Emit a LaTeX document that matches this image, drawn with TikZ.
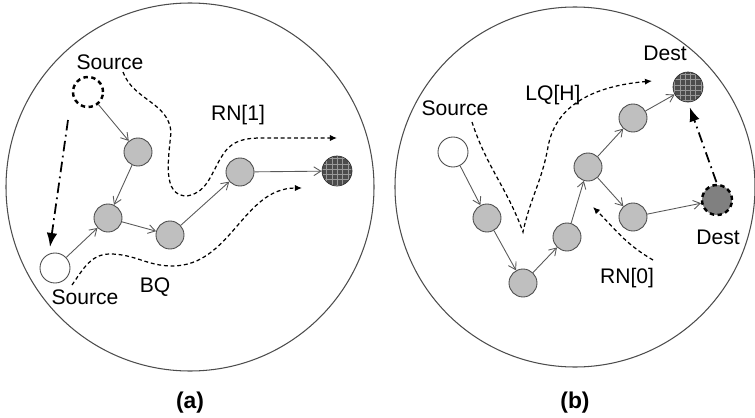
\documentclass[tikz,border=0pt]{standalone}
\usepackage{fontspec}
\setmainfont{Liberation Sans}
\usetikzlibrary{arrows.meta}
\usetikzlibrary{patterns}

\begin{document}
\begin{tikzpicture}[x=0.02cm,y=0.02cm,
  hop/.style={circle,draw=black!70,fill=black!25,minimum size=0.56cm,inner sep=0pt,line width=0.5pt},
  src/.style={circle,draw=black!70,fill=white,minimum size=0.6cm,inner sep=0pt,line width=0.5pt},
  dst/.style={circle,draw=black!80,minimum size=0.6cm,inner sep=0pt,preaction={fill=black!70},pattern=grid,pattern color=black!40},
  moved/.style={circle,draw=black,line width=1.4pt,dash pattern=on 2.5pt off 2pt,minimum size=0.6cm,inner sep=0pt},
  link/.style={draw=black!65,line width=0.5pt,-{Straight Barb[length=4pt,width=5pt]}},
  query/.style={black,line width=0.7pt,dash pattern=on 2.2pt off 1.6pt,-{Latex[length=4pt,width=3.5pt]}},
  drift/.style={black,line width=1pt,dash pattern=on 6pt off 2.5pt on 1pt off 2.5pt,-{Latex[length=8pt,width=6pt]}},
  lbl/.style={font=\fontsize{12}{14}\selectfont,inner sep=0pt},
  sublbl/.style={font=\fontsize{13}{15}\selectfont\bfseries,inner sep=0pt}]
\useasboundingbox (0,0) rectangle (755,417);

% (a) source moves, backward query BQ and reply RN[1]
\draw[black!70,line width=0.6pt] (190,230) circle (184);
\node[lbl] (srcAtxt) at (110,355) {Source};
\node[moved,fill=white] (srcAold) at (88,325) {};
\node[hop] (a1) at (138,265) {};
\node[hop] (a2) at (108,199) {};
\node[hop] (a3) at (170,182) {};
\node[hop] (a4) at (240,245) {};
\node[dst] (dstA) at (337,246) {};
\node[src] (srcA) at (55,149) {};
\node[lbl] (srcAlbl) at (85,120) {Source};
\node[lbl] (bq) at (155,130) {BQ};
\node[lbl] (rn1) at (238,302) {RN[1]};
\draw[link] (srcAold) -- (a1);
\draw[link] (a1) -- (a2);
\draw[link] (srcA) -- (a2);
\draw[link] (a2) -- (a3);
\draw[link] (a3) -- (a4);
\draw[link] (a4) -- (dstA);
\coordinate (mvA0) at (68,297);
\coordinate (mvA1) at (50,170);
\draw[drift] (mvA0) -- (mvA1);
\draw[query] (123,345) to[out=-70,in=95] (171,285) to[out=-95,in=180] (187,221)
  to[out=10,in=-125] (224,264) to[out=55,in=180] (262,279) -- (337,279);
\draw[query] (72,132) to[out=55,in=180] (110,163) to[out=0,in=180] (172,151)
  to[out=0,in=180] (302,229);

% (b) destination moves, location query LQ[H] and reply RN[0]
\draw[black!70,line width=0.6pt] (575,230) circle (180);
\node[lbl] (srcBtxt) at (455,309) {Source};
\node[src] (srcB) at (453,265) {};
\node[hop] (b1) at (487,199) {};
\node[hop] (b2) at (523,134) {};
\node[hop] (b3) at (567,180) {};
\node[hop] (b4) at (588,250) {};
\node[hop] (b5) at (633,299) {};
\node[hop] (b6) at (633,200) {};
\node[dst] (dstB) at (688,330) {};
\node[lbl] (dstBtxt) at (665,364) {Dest};
\node[moved,fill=black!50] (dstBnew) at (717,217) {};
\node[lbl] (dstBlbl) at (718,180) {Dest};
\node[lbl] (lq) at (553,322) {LQ[H]};
\node[lbl] (rn0) at (627,139) {RN[0]};
\draw[link] (srcB) -- (b1);
\draw[link] (b1) -- (b2);
\draw[link] (b2) -- (b3);
\draw[link] (b3) -- (b4);
\draw[link] (b4) -- (b5);
\draw[link] (b5) -- (dstB);
\draw[link] (b4) -- (b6);
\draw[link] (b6) -- (dstBnew);
\draw[drift,shorten <=1pt,shorten >=3pt] (dstBnew.north) -- (dstB.south);
\draw[query] (472,295) to[out=-72,in=110] (523,185) to[out=78,in=-100] (548,270)
  to[out=80,in=185] (652,336);
\draw[query] (653,157) to[out=150,in=-45] (593,210);

\node[sublbl] (subA) at (190,14) {(a)};
\node[sublbl] (subB) at (575,14) {(b)};
\end{tikzpicture}
\end{document}
